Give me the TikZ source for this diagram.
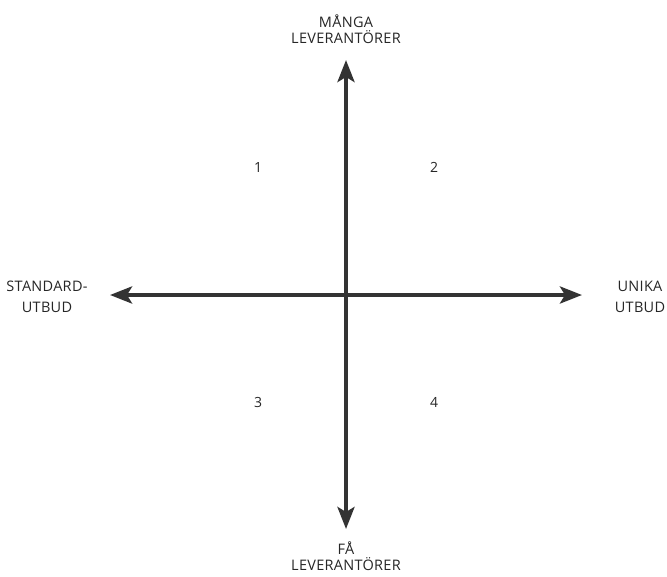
\documentclass[tikz,border=0pt]{standalone}
\usepackage{fontspec}
\setmainfont{Open Sans}
\newfontfamily\lblfont[LetterSpace=2]{Open Sans}
\usetikzlibrary{arrows.meta, positioning}

\begin{document}
\begin{tikzpicture}[x=1pt, y=-1pt,
		axis/.style={line width=4pt, color=black!80, {Stealth[length=22pt,width=17pt,inset=5pt]}-{Stealth[length=22pt,width=17pt,inset=5pt]}},
		lbl/.style={align=center, font=\lblfont\fontsize{14.5}{16}\selectfont, text=black!85, inner sep=0pt},
		side/.style={lbl, font=\lblfont\fontsize{14.5}{20.5}\selectfont},
		quad/.style={font=\fontsize{14}{15}\selectfont, text=black!85, inner sep=0pt}]
	% Bildbereich
	\useasboundingbox (0,0) rectangle (667,576);
	% Achsenenden
	\coordinate (o) at (346,295);
	\coordinate (n) at (346,60);
	\coordinate (s) at (346,529);
	\coordinate (w) at (110,295);
	\coordinate (e) at (582,295);
	% Achsen zeichnen
	\draw[axis] (w) -- (e);
	\draw[axis] (s) -- (n);
	% Achsen beschriften
	\node[lbl] (manga) at (346,29) {MÅNGA\\LEVERANTÖRER};
	\node[lbl] (fa) at (346,556) {FÅ\\LEVERANTÖRER};
	\node[side] (standard) at (47,297) {STANDARD-\\UTBUD};
	\node[side] (unika) at (640,297) {UNIKA\\UTBUD};
	% Quadranten
	\foreach \n/\x/\y in {1/258/167, 2/434/167, 3/258/402, 4/434/402}
		\node[quad] (q\n) at (\x,\y) {\n};
\end{tikzpicture}
\end{document}
